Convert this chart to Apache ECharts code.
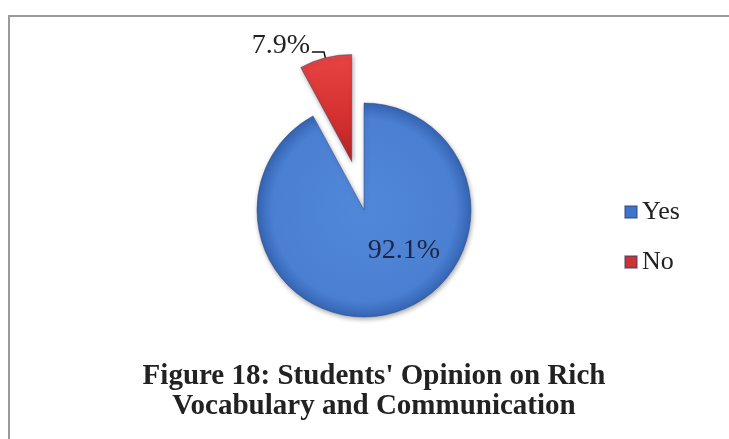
<!DOCTYPE html>
<html>
<head>
<meta charset="utf-8">
<script src="https://cdn.jsdelivr.net/npm/echarts@6/dist/echarts.min.js"></script>
<style>
html,body{margin:0;padding:0;background:#fff;}
#c{width:729px;height:439px;}
</style>
</head>
<body>
<div id="c"></div>
<script>
var categories = ['Yes', 'No'];
var values = [92.1, 7.9];
var titleLines = ["Figure 18: Students' Opinion on Rich", 'Vocabulary and Communication'];

var fills = [
  {type: 'radial', x: 0.5, y: 0.5, r: 0.5, colorStops: [
    {offset: 0, color: '#5288da'}, {offset: 0.85, color: '#4a7fd2'}, {offset: 1, color: '#3565b4'}]},
  {type: 'linear', x: 0, y: 0, x2: 0, y2: 1, colorStops: [
    {offset: 0, color: '#e84444'}, {offset: 0.6, color: '#d43030'}, {offset: 1, color: '#b42424'}]}
];
var legendColors = ['#3f74cc', '#cc3333'];
var labelStyles = [
  {position: 'inside', color: '#1c2642'},
  {position: 'outside', color: '#222', distanceToLabelLine: 2}
];
var labelShifts = [{dx: 26, dy: -14}, {dy: -6}];

var data = categories.map(function (name, i) {
  return {
    name: name,
    value: values[i],
    selected: i === 1,
    itemStyle: {color: fills[i]},
    label: labelStyles[i],
    labelLine: {show: i === 1}
  };
});

var chart = echarts.init(document.getElementById('c'));
chart.setOption({
  animation: false,
  color: legendColors,
  graphic: [{
    type: 'rect',
    shape: {x: 9, y: 16, width: 760, height: 460},
    style: {fill: 'none', stroke: '#9a9a9a', lineWidth: 2},
    silent: true
  }],
  title: {
    text: titleLines.join('\n'),
    left: 374,
    textAlign: 'center',
    top: 362,
    padding: 0,
    textStyle: {
      fontFamily: 'Liberation Serif',
      fontWeight: 'bold',
      fontSize: 29,
      lineHeight: 30,
      color: '#222'
    }
  },
  legend: {
    orient: 'vertical',
    left: 619,
    top: 194,
    itemWidth: 12,
    itemHeight: 12,
    itemGap: 24,
    icon: 'rect',
    data: categories.map(function (n, i) { return {name: n, itemStyle: {color: legendColors[i]}}; }),
    textStyle: {fontFamily: 'Liberation Serif', fontSize: 26, lineHeight: 26, color: '#222'}
  },
  series: [{
    type: 'pie',
    center: [364, 210],
    radius: 107,
    startAngle: 90,
    clockwise: true,
    selectedMode: 'single',
    selectedOffset: 50,
    avoidLabelOverlap: false,
    itemStyle: {
      borderColor: 'rgba(40,60,110,0.45)',
      borderWidth: 1,
      shadowBlur: 5,
      shadowColor: 'rgba(0,0,0,0.35)',
      shadowOffsetX: 1,
      shadowOffsetY: 2
    },
    label: {
      formatter: '{c}%',
      fontFamily: 'Liberation Serif',
      fontSize: 28
    },
    labelLine: {
      length: 6,
      length2: 12,
      lineStyle: {color: '#111', width: 1.5}
    },
    emphasis: {disabled: true},
    labelLayout: function (p) {
      return labelShifts[p.dataIndex] || {};
    },
    data: data
  }]
});
</script>
</body>
</html>
